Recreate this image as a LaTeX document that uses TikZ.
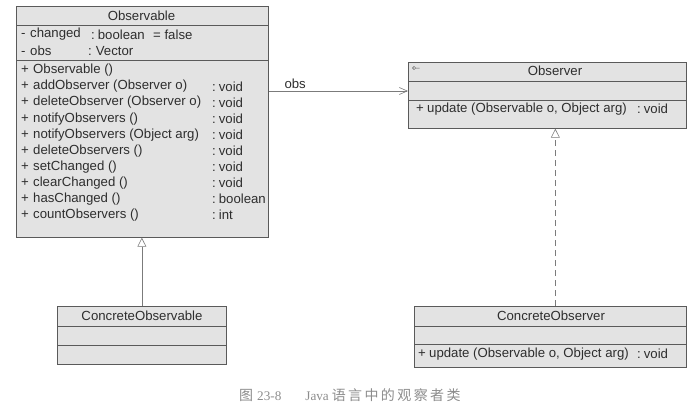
\documentclass[tikz,border=0pt]{standalone}
\usepackage{fontspec}
\setmainfont{Liberation Sans}
\newfontfamily\capserif{Liberation Serif}
\newfontfamily\cjk[LetterSpace=17]{Noto Sans CJK SC}
\usetikzlibrary{arrows.meta}
\definecolor{boxgray}{HTML}{E3E3E3}
\definecolor{linegray}{HTML}{5A5A5A}
\definecolor{textgray}{HTML}{2E2E2E}
\definecolor{capgray}{HTML}{8C8C8C}
\newcommand\of[1]{:\hspace{3pt}#1}
\tikzset{
  classbox/.style={draw=linegray,fill=boxgray,line width=0.7pt,anchor=north west,inner sep=0pt},
  divider/.style={draw=linegray,line width=0.7pt},
  ctitle/.style={inner sep=0pt,text=textgray},
  member/.style={anchor=west,inner sep=0pt,text=textgray},
  assoc/.style={draw=linegray!80,line width=0.6pt,-{Straight Barb[length=8pt,width=7pt]}},
  inherit/.style={draw=linegray!80,line width=0.6pt,-{Triangle[open,length=9pt,width=9pt,fill=white]}},
  realize/.style={inherit,dash pattern=on 6pt off 4pt},
}
\begin{document}
\begin{tikzpicture}[x=1pt,y=-1pt,font=\fontsize{13.2}{16}\selectfont]
\useasboundingbox (0,0) rectangle (698,415);
% class frames
\node [classbox,minimum width=252pt,minimum height=231pt] (observable) at (16,6) {};
\node [classbox,minimum width=278pt,minimum height=66pt] (observer) at (408,62) {};
\node [classbox,minimum width=169pt,minimum height=58pt] (cobservable) at (57,306) {};
\node [classbox,minimum width=272pt,minimum height=61pt] (cobserver) at (414,306) {};
\foreach \n/\a/\b in {observable/19/54,observer/19/38,cobservable/20/39,cobserver/20/38}{
  \draw [divider] ([yshift=-\a]\n.north west) -- ([yshift=-\a]\n.north east);
  \draw [divider] ([yshift=-\b]\n.north west) -- ([yshift=-\b]\n.north east);
}
% titles
\node [ctitle] (t-observable) at (141.5,15.5) {Observable};
\node [ctitle] (t-observer) at (555,71) {Observer};
\node [ctitle] (t-cobservable) at (142,316) {ConcreteObservable};
\node [ctitle] (t-cobserver) at (551,316) {ConcreteObserver};
\draw [linegray,line width=0.5pt] (414,68) circle (1.6pt) (415.6,68) -- (419.5,68);
% Observable members
\node [member] (a-changed) at (21,34.5) {\makebox[9pt][l]{-}changed};
\node [member] (a-changed-t) at (91,34.5) {\of{boolean}};
\node [member] (a-changed-v) at (153,34.5) {= false};
\node [member] (a-obs) at (21,51) {\makebox[9pt][l]{-}obs};
\node [member] (a-obs-t) at (88,51) {:\hspace{4pt}Vector};
\foreach \m/\t [count=\i] in {{Observable ()}/{},{addObserver (Observer o)}/{\of{void}},
  {deleteObserver (Observer o)}/{\of{void}},{notifyObservers ()}/{\of{void}},
  {notifyObservers (Object arg)}/{\of{void}},{deleteObservers ()}/{\of{void}},
  {setChanged ()}/{\of{void}},{clearChanged ()}/{\of{void}},
  {hasChanged ()}/{\of{boolean}},{countObservers ()}/{\of{int}}}{
  \node [member] (op-\i) at (21,54.2+16.1*\i) {\makebox[12pt][l]{+}\m};
  \node [member] (op-\i-t) at (212,54.2+16.1*\i) {\t};
}
% Observer members
\node [member] (u-observer) at (416,109) {\makebox[11pt][l]{+}update (Observable o, Object arg)};
\node [member] (u-observer-t) at (637,109) {\of{void}};
\node [member] (u-cobserver) at (418,354) {\makebox[11pt][l]{+}update (Observable o, Object arg)};
\node [member] (u-cobserver-t) at (637,354) {\of{void}};
% relations
\draw [assoc] ([yshift=-85]observable.north east) -- ([yshift=-85]observable.north east -| observer.west)
  node [pos=0.19,above=2pt,inner sep=0pt,text=textgray] (l-obs) {obs};
\draw [inherit] (cobservable.north) -- (cobservable.north |- observable.south);
\draw [realize] ([xshift=5]cobserver.north) -- ([xshift=5]cobserver.north |- observer.south);
% caption
\node [anchor=west,inner sep=0pt,text=capgray] (caption) at (239,395)
  {{\cjk\fontsize{14}{16}\selectfont 图}\hspace{4pt}{\capserif 23-8}\hspace{24pt}{\capserif Java}\hspace{3pt}{\cjk\fontsize{14}{16}\selectfont 语言中的观察者类}};
\end{tikzpicture}
\end{document}
